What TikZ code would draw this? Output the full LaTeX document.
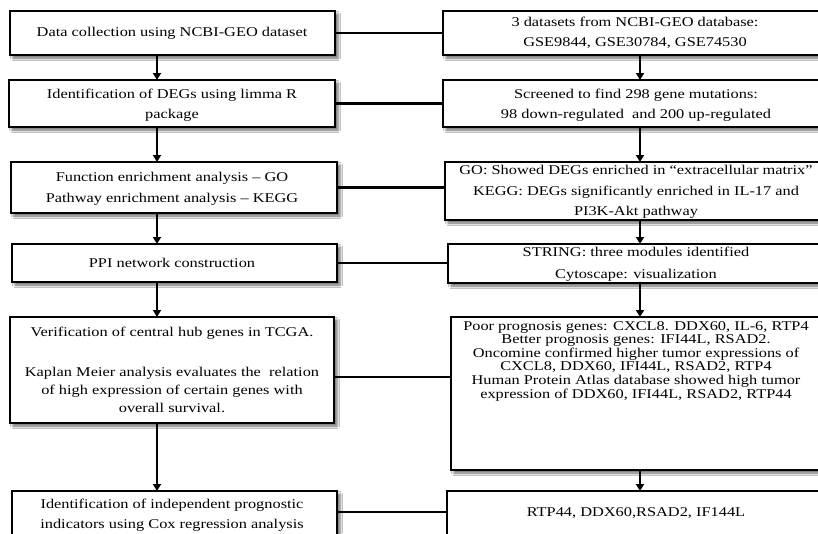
\documentclass[tikz,border=0pt]{standalone}
\usepackage{fontspec}
\setmainfont{Liberation Serif}[FakeStretch=1.22]
\usetikzlibrary{arrows.meta,fit,shadows.blur}
\begin{document}
\begin{tikzpicture}[x=1pt,y=-1pt,
  box/.style={draw=black, line width=2.9pt, fill=white, inner sep=0pt, outer sep=0pt,
    blur shadow={shadow xshift=3pt, shadow yshift=-3pt, shadow blur radius=2.5pt, shadow opacity=60}},
  txt/.style={align=center, inner sep=0pt, font=\fontsize{13.4}{20}\selectfont},
  conn/.style={draw=black, line width=2.7pt},
  arr/.style={conn, -{Triangle[width=8pt,length=7pt]}}]
\useasboundingbox (0,0) rectangle (818,533);
\fill[white] (0,0) rectangle (818,533);
\clip (0,0) rectangle (818,533);
\coordinate (ax) at (157,0);
\coordinate (bx) at (640,0);
% left column boxes
\node[box, fit={(10,11) (335,55)}] (L1) {};
\node[box, fit={(9,80) (335,127)}] (L2) {};
\node[box, fit={(11,162) (337,213)}] (L3) {};
\node[box, fit={(12,244) (337,282)}] (L4) {};
\node[box, fit={(10,317) (334,423)}] (L5) {};
\node[box, fit={(12,491) (337,536)}] (L6) {};
% right column boxes
\node[box, fit={(443,11) (830,55)}] (R1) {};
\node[box, fit={(443,80) (830,127)}] (R2) {};
\node[box, fit={(445,162) (830,220)}] (R3) {};
\node[box, fit={(448,244) (830,283)}] (R4) {};
\node[box, fit={(451,317) (830,470)}] (R5) {};
\node[box, fit={(447,491) (830,545)}] (R6) {};
% texts
\node[txt] (t1) at (172,33) {Data collection using NCBI-GEO dataset};
\node[txt] (t2) at (172,105) {Identification of DEGs using limma R\\package};
\node[txt, font=\fontsize{13.4}{21}\selectfont] (t3) at (172,189) {Function enrichment analysis -- GO\\Pathway enrichment analysis -- KEGG};
\node[txt] (t4) at (172,263) {PPI network construction};
\node[txt, font=\fontsize{13.4}{18}\selectfont] (t5) at (172,370) {Verification of central hub genes in TCGA.\\[22pt]Kaplan Meier analysis evaluates the\ \ relation\\of high expression of certain genes with\\overall survival.};
\node[txt] (t6) at (172,515) {Identification of independent prognostic\\indicators using Cox regression analysis};
\node[txt] (u1) at (635,33) {3 datasets from NCBI-GEO database:\\GSE9844, GSE30784, GSE74530};
\node[txt, font=\fontsize{13.4}{19.5}\selectfont] (u2) at (636,105) {Screened to find 298 gene mutations:\\98 down-regulated\ \ and 200 up-regulated};
\node[txt, font=\fontsize{13.4}{20.5}\selectfont] (u3) at (636,192) {GO: Showed DEGs enriched in ``extracellular matrix''\\KEGG: DEGs significantly enriched in IL-17 and\\PI3K-Akt pathway};
\node[txt, font=\fontsize{13.4}{22}\selectfont] (u4) at (636,264) {STRING: three modules identified\\Cytoscape: visualization};
\node[txt, font=\fontsize{13.4}{13.6}\selectfont] (u5) at (636,361) {Poor prognosis genes: CXCL8. DDX60, IL-6, RTP4\\Better prognosis genes: IFI44L, RSAD2.\\Oncomine confirmed higher tumor expressions of\\CXCL8, DDX60, IFI44L, RSAD2, RTP4\\Human Protein Atlas database showed high tumor\\expression of DDX60, IFI44L, RSAD2, RTP44};
\node[txt] (u6) at (636,513) {RTP44, DDX60,RSAD2, IF144L};
% horizontal connectors
\draw[conn] (L1.east) -- (L1.east -| R1.west);
\draw[conn] (L2.east) -- (L2.east -| R2.west);
\draw[conn] (L3.east) -- (L3.east -| R3.west);
\draw[conn] (L4.east) -- (L4.east -| R4.west);
\draw[conn] ([yshift=-7pt]L5.east) -- ([yshift=-7pt]L5.east -| R5.west);
\draw[conn] ([yshift=-21pt]L6.north east) -- ([yshift=-21pt]L6.north east -| R6.west);
% vertical arrows
\draw[arr] (L1.south -| ax) -- (L2.north -| ax);
\draw[arr] (L2.south -| ax) -- (L3.north -| ax);
\draw[arr] (L3.south -| ax) -- (L4.north -| ax);
\draw[arr] (L4.south -| ax) -- (L5.north -| ax);
\draw[arr] (L5.south -| ax) -- (L6.north -| ax);
\draw[arr] (R1.south -| bx) -- (R2.north -| bx);
\draw[arr] (R2.south -| bx) -- (R3.north -| bx);
\draw[arr] (R3.south -| bx) -- (R4.north -| bx);
\draw[arr] (R4.south -| bx) -- (R5.north -| bx);
\draw[arr] (R5.south -| bx) -- (R6.north -| bx);
\end{tikzpicture}
\end{document}
